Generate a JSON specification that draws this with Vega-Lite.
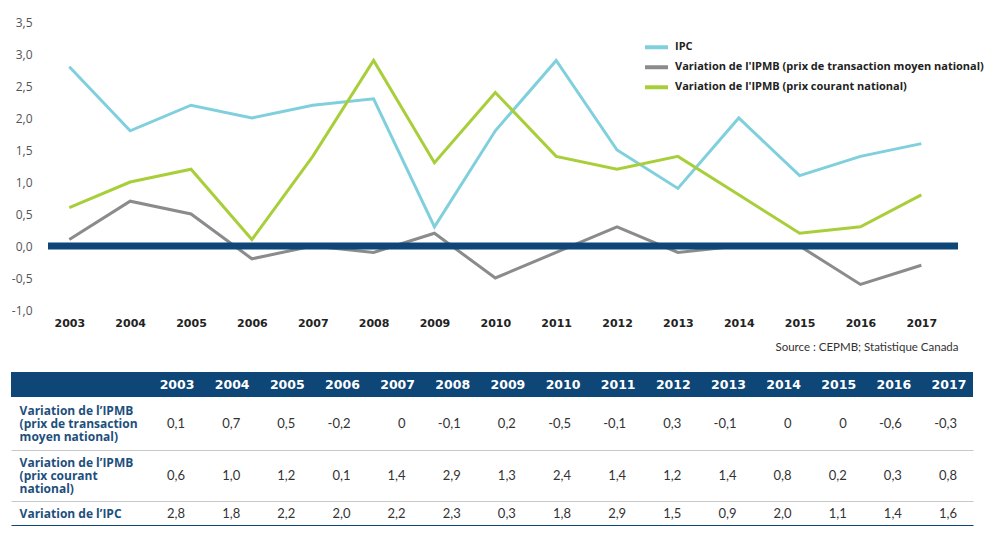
{
  "$schema": "https://vega.github.io/schema/vega-lite/v6.json",
  "padding": {"left": 11, "top": 16, "right": 0, "bottom": 0},
  "config": {
    "locale": {"number": {"decimal": ",", "thousands": " ", "grouping": [3], "currency": ["", " $"], "minus": "-"}},
    "font": "Lato",
    "view": {"stroke": null},
    "concat": {"spacing": 0}
  },
  "datasets": {
    "d": [
      {"year": 2003, "serie": "IPC", "value": 2.8},
      {"year": 2004, "serie": "IPC", "value": 1.8},
      {"year": 2005, "serie": "IPC", "value": 2.2},
      {"year": 2006, "serie": "IPC", "value": 2.0},
      {"year": 2007, "serie": "IPC", "value": 2.2},
      {"year": 2008, "serie": "IPC", "value": 2.3},
      {"year": 2009, "serie": "IPC", "value": 0.3},
      {"year": 2010, "serie": "IPC", "value": 1.8},
      {"year": 2011, "serie": "IPC", "value": 2.9},
      {"year": 2012, "serie": "IPC", "value": 1.5},
      {"year": 2013, "serie": "IPC", "value": 0.9},
      {"year": 2014, "serie": "IPC", "value": 2.0},
      {"year": 2015, "serie": "IPC", "value": 1.1},
      {"year": 2016, "serie": "IPC", "value": 1.4},
      {"year": 2017, "serie": "IPC", "value": 1.6},
      {"year": 2003, "serie": "Variation de l'IPMB (prix de transaction moyen national)", "value": 0.1},
      {"year": 2004, "serie": "Variation de l'IPMB (prix de transaction moyen national)", "value": 0.7},
      {"year": 2005, "serie": "Variation de l'IPMB (prix de transaction moyen national)", "value": 0.5},
      {"year": 2006, "serie": "Variation de l'IPMB (prix de transaction moyen national)", "value": -0.2},
      {"year": 2007, "serie": "Variation de l'IPMB (prix de transaction moyen national)", "value": 0},
      {"year": 2008, "serie": "Variation de l'IPMB (prix de transaction moyen national)", "value": -0.1},
      {"year": 2009, "serie": "Variation de l'IPMB (prix de transaction moyen national)", "value": 0.2},
      {"year": 2010, "serie": "Variation de l'IPMB (prix de transaction moyen national)", "value": -0.5},
      {"year": 2011, "serie": "Variation de l'IPMB (prix de transaction moyen national)", "value": -0.1},
      {"year": 2012, "serie": "Variation de l'IPMB (prix de transaction moyen national)", "value": 0.3},
      {"year": 2013, "serie": "Variation de l'IPMB (prix de transaction moyen national)", "value": -0.1},
      {"year": 2014, "serie": "Variation de l'IPMB (prix de transaction moyen national)", "value": 0},
      {"year": 2015, "serie": "Variation de l'IPMB (prix de transaction moyen national)", "value": 0},
      {"year": 2016, "serie": "Variation de l'IPMB (prix de transaction moyen national)", "value": -0.6},
      {"year": 2017, "serie": "Variation de l'IPMB (prix de transaction moyen national)", "value": -0.3},
      {"year": 2003, "serie": "Variation de l'IPMB (prix courant national)", "value": 0.6},
      {"year": 2004, "serie": "Variation de l'IPMB (prix courant national)", "value": 1.0},
      {"year": 2005, "serie": "Variation de l'IPMB (prix courant national)", "value": 1.2},
      {"year": 2006, "serie": "Variation de l'IPMB (prix courant national)", "value": 0.1},
      {"year": 2007, "serie": "Variation de l'IPMB (prix courant national)", "value": 1.4},
      {"year": 2008, "serie": "Variation de l'IPMB (prix courant national)", "value": 2.9},
      {"year": 2009, "serie": "Variation de l'IPMB (prix courant national)", "value": 1.3},
      {"year": 2010, "serie": "Variation de l'IPMB (prix courant national)", "value": 2.4},
      {"year": 2011, "serie": "Variation de l'IPMB (prix courant national)", "value": 1.4},
      {"year": 2012, "serie": "Variation de l'IPMB (prix courant national)", "value": 1.2},
      {"year": 2013, "serie": "Variation de l'IPMB (prix courant national)", "value": 1.4},
      {"year": 2014, "serie": "Variation de l'IPMB (prix courant national)", "value": 0.8},
      {"year": 2015, "serie": "Variation de l'IPMB (prix courant national)", "value": 0.2},
      {"year": 2016, "serie": "Variation de l'IPMB (prix courant national)", "value": 0.3},
      {"year": 2017, "serie": "Variation de l'IPMB (prix courant national)", "value": 0.8}
    ]
  },
  "spacing": 19,
  "vconcat": [
    {
      "width": 962,
      "height": 288,
      "layer": [
        {
          "data": {"name": "d"},
          "mark": {"type": "line", "strokeWidth": 3},
          "encoding": {
            "x": {
              "field": "year", "type": "quantitative",
              "scale": {"domain": [2002.042, 2017.849], "nice": false, "zero": false},
              "axis": {
                "values": [2003, 2004, 2005, 2006, 2007, 2008, 2009, 2010, 2011, 2012, 2013, 2014, 2015, 2016, 2017],
                "tickCount": 30,
                "format": "d", "domain": false, "ticks": false, "tickSize": 0, "grid": false, "labelOverlap": false,
                "labelFont": "DejaVu Sans", "labelFontWeight": "bold", "labelFontSize": 11, "labelColor": "#222", "labelPadding": 7,
                "title": "Source : CEPMB; Statistique Canada",
                "titleX": 947, "titleY": 37, "titleAlign": "right", "titleBaseline": "middle",
                "titleFont": "Lato", "titleFontWeight": "normal", "titleFontSize": 11.5, "titleColor": "#333"
              }
            },
            "y": {
              "field": "value", "type": "quantitative",
              "scale": {"domain": [-1, 3.5], "nice": false, "zero": false},
              "axis": {
                "values": [-1, -0.5, 0, 0.5, 1, 1.5, 2, 2.5, 3, 3.5],
                "tickCount": 20,
                "format": ".1f", "title": null, "domain": false, "ticks": false, "tickSize": 0, "grid": false,
                "labelOverlap": false, "labelFont": "Open Sans",
                "offset": -25, "labelPadding": 4, "labelFontSize": 12, "labelColor": "#555"
              }
            },
            "color": {
              "field": "serie", "type": "nominal",
              "scale": {
                "domain": ["IPC", "Variation de l'IPMB (prix de transaction moyen national)", "Variation de l'IPMB (prix courant national)"],
                "range": ["#7fd0dc", "#8a8b8d", "#a8cf3a"]
              },
              "legend": {
                "orient": "none", "legendX": 632, "legendY": 16.5, "title": null,
                "symbolType": "stroke", "symbolStrokeWidth": 4, "symbolSize": 529, "clipHeight": 17.5,
                "labelFont": "Open Sans", "labelFontSize": 11, "labelFontWeight": "bold", "labelColor": "#222",
                "labelLimit": 500, "rowPadding": 2, "labelOffset": 5
              }
            }
          }
        },
        {
          "data": {"values": [{}]},
          "mark": {"type": "rule", "color": "#0d4677", "strokeWidth": 7},
          "encoding": {
            "y": {"datum": 0, "type": "quantitative"},
            "x": {"datum": 2002.65, "type": "quantitative"},
            "x2": {"datum": 2017.603}
          }
        }
      ]
    },
    {
      "spacing": 0,
      "vconcat": [
        {
          "width": 962,
          "height": 25,
          "view": {"fill": "#0d4677", "stroke": null},
          "data": {"name": "d"},
          "transform": [{"filter": "datum.serie === 'IPC'"}],
          "mark": {"type": "text", "align": "center", "baseline": "middle", "dx": -8, "font": "DejaVu Sans", "fontSize": 12.5, "fontWeight": "bold", "color": "#ffffff"},
          "encoding": {
            "x": {"field": "year", "type": "quantitative", "scale": {"domain": [1999.844, 2017.29], "nice": false, "zero": false}, "axis": null},
            "text": {"field": "year", "type": "quantitative", "format": "d"}
          }
        },
        {
          "width": 962,
          "height": 53,
          "layer": [
            {
              "data": {"name": "d"},
              "transform": [
                {"filter": "datum.serie === \"Variation de l'IPMB (prix de transaction moyen national)\""},
                {"calculate": "datum.value === 0 ? '0' : format(datum.value, '.1f')", "as": "txt"}
              ],
              "mark": {"type": "text", "align": "right", "baseline": "middle", "fontSize": 13, "color": "#333"},
              "encoding": {
                "x": {"field": "year", "type": "quantitative", "scale": {"domain": [1999.844, 2017.29], "nice": false, "zero": false},
                  "axis": {"labels": false, "ticks": false, "grid": false, "title": null, "domain": true, "domainColor": "#c8c8c8", "domainWidth": 1}},
                "text": {"field": "txt", "type": "nominal"}
              }
            },
            {
              "data": {"values": [{"label": "Variation de l’IPMB\n(prix de transaction\nmoyen national)"}]},
              "mark": {"type": "text", "align": "left", "baseline": "middle", "dy": -13, "lineBreak": "\n", "lineHeight": 13, "font": "Open Sans", "fontSize": 12, "fontWeight": "bold", "color": "#1d4f7c"},
              "encoding": {
                "x": {"datum": 2000, "type": "quantitative"},
                "text": {"field": "label", "type": "nominal"}
              }
            }
          ]
        },
        {
          "width": 962,
          "height": 51,
          "layer": [
            {
              "data": {"name": "d"},
              "transform": [
                {"filter": "datum.serie === \"Variation de l'IPMB (prix courant national)\""}
              ],
              "mark": {"type": "text", "align": "right", "baseline": "middle", "fontSize": 13, "color": "#333"},
              "encoding": {
                "x": {"field": "year", "type": "quantitative", "scale": {"domain": [1999.844, 2017.29], "nice": false, "zero": false},
                  "axis": {"labels": false, "ticks": false, "grid": false, "title": null, "domain": true, "domainColor": "#c8c8c8", "domainWidth": 1}},
                "text": {"field": "value", "type": "quantitative", "format": ".1f"}
              }
            },
            {
              "data": {"values": [{"label": "Variation de l’IPMB\n(prix courant\nnational)"}]},
              "mark": {"type": "text", "align": "left", "baseline": "middle", "dy": -13, "lineBreak": "\n", "lineHeight": 13, "font": "Open Sans", "fontSize": 12, "fontWeight": "bold", "color": "#1d4f7c"},
              "encoding": {
                "x": {"datum": 2000, "type": "quantitative"},
                "text": {"field": "label", "type": "nominal"}
              }
            }
          ]
        },
        {
          "width": 962,
          "height": 25,
          "layer": [
            {
              "data": {"name": "d"},
              "transform": [{"filter": "datum.serie === 'IPC'"}],
              "mark": {"type": "text", "align": "right", "baseline": "middle", "fontSize": 13, "color": "#333"},
              "encoding": {
                "x": {"field": "year", "type": "quantitative", "scale": {"domain": [1999.844, 2017.29], "nice": false, "zero": false},
                  "axis": {"labels": false, "ticks": false, "grid": false, "title": null, "domain": true, "domainColor": "#0d4677", "domainWidth": 3}},
                "text": {"field": "value", "type": "quantitative", "format": ".1f"}
              }
            },
            {
              "data": {"values": [{"label": "Variation de l’IPC"}]},
              "mark": {"type": "text", "align": "left", "baseline": "middle", "font": "Open Sans", "fontSize": 12, "fontWeight": "bold", "color": "#1d4f7c"},
              "encoding": {
                "x": {"datum": 2000, "type": "quantitative"},
                "text": {"field": "label", "type": "nominal"}
              }
            }
          ]
        }
      ]
    }
  ]
}
